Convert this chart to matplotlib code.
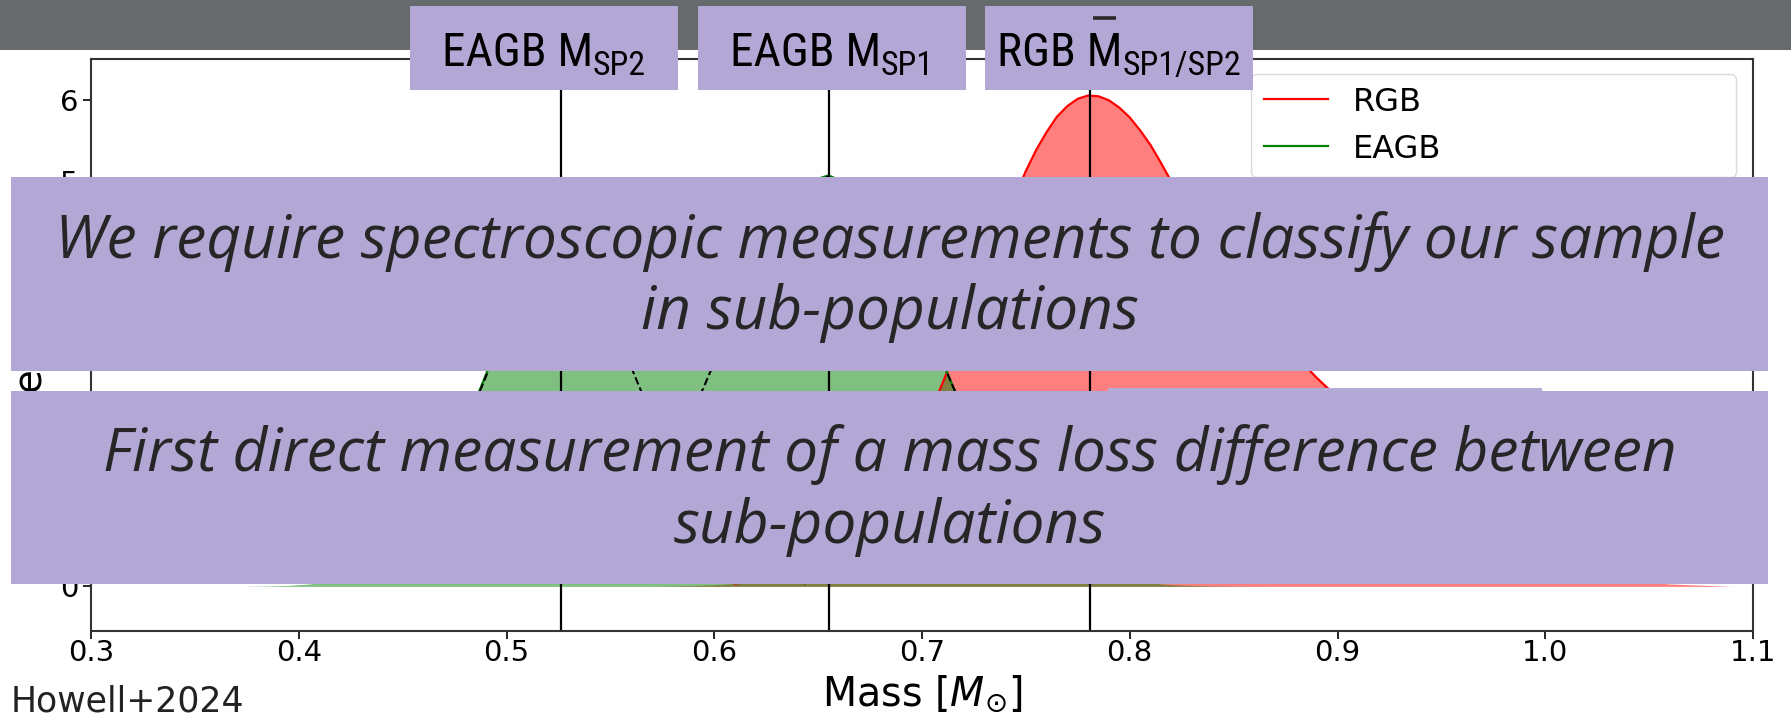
import matplotlib
matplotlib.use("Agg")
import matplotlib.pyplot as plt
import numpy as np
from matplotlib.patches import Rectangle
from matplotlib.lines import Line2D

# RGB mass density (one population), finer sampling around the peak
rgb_mass = [0.57, 0.58, 0.59, 0.60, 0.61, 0.62, 0.63, 0.64, 0.65, 0.66,
            0.67, 0.68, 0.69, 0.70, 0.71, 0.72, 0.73, 0.735, 0.74, 0.745,
            0.75, 0.755, 0.76, 0.765, 0.77, 0.775, 0.78, 0.785, 0.79, 0.795,
            0.80, 0.805, 0.81, 0.815, 0.82, 0.825, 0.83, 0.835, 0.84, 0.85,
            0.86, 0.87, 0.88, 0.89, 0.90, 0.91, 0.92, 0.93, 0.94, 0.95,
            0.96, 0.97, 0.98, 0.99, 1.00, 1.01, 1.02, 1.03, 1.04, 1.05,
            1.06, 1.07, 1.08, 1.09]
rgb_density = [0.00, 0.005, 0.01, 0.02, 0.036, 0.065, 0.11, 0.19, 0.30, 0.47,
               0.70, 1.02, 1.42, 1.92, 2.51, 3.16, 3.84, 4.18, 4.51, 4.82,
               5.12, 5.38, 5.60, 5.79, 5.92, 6.01, 6.05, 6.04, 5.99, 5.90,
               5.78, 5.62, 5.44, 5.22, 4.99, 4.79, 4.58, 4.38, 4.18, 3.80,
               3.45, 3.12, 2.84, 2.57, 2.33, 2.09, 1.85, 1.61, 1.38, 1.16,
               0.96, 0.78, 0.62, 0.48, 0.36, 0.26, 0.18, 0.12, 0.08, 0.05,
               0.03, 0.02, 0.01, 0.00]

# EAGB components: SP2 (low mass) and SP1, on a common grid
eagb_mass = np.round(np.arange(0.375, 0.87, 0.01), 3)
sp2_density = [0.002, 0.005, 0.012, 0.029, 0.063, 0.128, 0.245, 0.438, 0.731, 1.140,
               1.664, 2.269, 2.893, 3.447, 3.840, 4.000, 3.892, 3.541, 3.012, 2.394,
               1.780, 1.236, 0.803, 0.487, 0.277, 0.147, 0.073, 0.034, 0.015, 0.006,
               0.002, 0.001, 0, 0, 0, 0, 0, 0, 0, 0,
               0, 0, 0, 0, 0, 0, 0, 0, 0, 0]
sp1_density = [0, 0, 0, 0, 0, 0, 0.000, 0.001, 0.002, 0.004,
               0.008, 0.016, 0.030, 0.056, 0.100, 0.172, 0.283, 0.449, 0.683, 0.999,
               1.404, 1.895, 2.458, 3.063, 3.667, 4.218, 4.662, 4.950, 5.050, 4.950,
               4.662, 4.218, 3.667, 3.063, 2.458, 1.895, 1.404, 0.999, 0.683, 0.449,
               0.283, 0.172, 0.100, 0.056, 0.030, 0.016, 0.008, 0.004, 0.002, 0.001]

# mean masses marked with vertical lines, and their header labels
mean_masses = [0.526, 0.655, 0.781]
label_main = ["EAGB M", "EAGB M", "RGB M"]
label_sub = ["SP2", "SP1", "SP1/SP2"]
label_bar = [False, False, True]

legend_labels = ["RGB", "EAGB"]

messages = ["We require spectroscopic measurements to classify our sample\nin sub-populations",
            "First direct measurement of a mass loss difference between\nsub-populations"]

W, H = 1791, 718
lavender = "#b3a8d5"
ink = "#262626"
narrow = ["Roboto Condensed", "Roboto"]

fig = plt.figure(figsize=(W / 100, H / 100), dpi=100)
fig.patch.set_facecolor("white")
ax = fig.add_axes([91 / W, 1 - 631 / H, 1662 / W, 572 / H])

rgb_mass = np.array(rgb_mass)
rgb = np.array(rgb_density)
sp1 = np.array(sp1_density)
sp2 = np.array(sp2_density)
eagb = sp1 + sp2

# curves are only stroked where they leave the baseline
cut = 0.03
ax.fill_between(rgb_mass, 0, rgb, color="red", alpha=0.5, lw=0)
ax.plot(rgb_mass[rgb > cut], rgb[rgb > cut], color="red", lw=1.6)
ax.fill_between(eagb_mass, 0, eagb, color="green", alpha=0.5, lw=0)
ax.plot(eagb_mass[eagb > cut], eagb[eagb > cut], color="green", lw=1.6)
ax.plot(eagb_mass[sp2 > cut], sp2[sp2 > cut], color="black", ls="--", lw=1.5)
ax.plot(eagb_mass[sp1 > cut], sp1[sp1 > cut], color="black", ls="--", lw=1.5)
for m in mean_masses:
    ax.axvline(m, color="black", lw=1.6)

ax.set_xlim(0.3, 1.1)
ax.set_ylim(-0.55, 6.5)
ax.set_xticks(np.round(np.arange(0.3, 1.15, 0.1), 1))
ax.set_yticks(range(0, 7))
ax.tick_params(labelsize=21, length=6, width=1.2)
ax.tick_params(axis="x", pad=0)
ax.tick_params(axis="y", pad=3)
for s in ax.spines.values():
    s.set_linewidth(1.5)
    s.set_color("#333333")
ax.set_xlabel(r"Mass [$M_{\odot}$]", fontsize=28.5, labelpad=4)
ax.set_ylabel("Density", fontsize=28)
ax.yaxis.set_label_coords(-0.027, 0.5)

handles = [Line2D([], [], color="red", lw=1.6), Line2D([], [], color="green", lw=1.6)]
ax.legend(handles, legend_labels, loc="upper right", fontsize=23,
          bbox_to_anchor=(0.698, 0.5, 0.292, 0.474), mode="expand",
          borderaxespad=0, edgecolor="#d0d0d0")


def box(x0, y0, x1, y1, color, z=10):
    fig.add_artist(Rectangle((x0 / W, 1 - y1 / H), (x1 - x0) / W, (y1 - y0) / H,
                             transform=fig.transFigure, facecolor=color,
                             edgecolor="none", zorder=z))


# header band and label boxes
box(0, 0, W, 50, "#666a6d")
renderer = fig.canvas.get_renderer()
label_boxes = [(410, 678), (698, 966), (985, 1253)]
for (x0, x1), main, sub, bar in zip(label_boxes, label_main, label_sub, label_bar):
    box(x0, 6, x1, 90, lavender)
    tm = fig.text(0, 0, main, fontsize=34, family=narrow, va="baseline", zorder=12)
    ts = fig.text(0, 0, sub, fontsize=24.5, family=narrow, va="baseline", zorder=12)
    wm = tm.get_window_extent(renderer).width
    ws = ts.get_window_extent(renderer).width
    left = (x0 + x1) / 2 - (wm + ws) / 2
    tm.set_position((left / W, 1 - 66 / H))
    ts.set_position(((left + wm) / W, 1 - 75 / H))
    if bar:
        tmp = fig.text(0, 0, "M", fontsize=34, family=narrow)
        wM = tmp.get_window_extent(renderer).width
        tmp.remove()
        xa, xb = left + wm - wM + 6, left + wm - 6
        fig.add_artist(Line2D([xa / W, xb / W], [1 - 18 / H, 1 - 18 / H],
                              transform=fig.transFigure, color="#2a2a2a",
                              lw=2.6, solid_capstyle="butt", zorder=12))

# message panels
box(1108, 388, 1542, 400, "#b6acd8", z=9)
panels = [(177, 371), (391, 584)]
for (y0, y1), msg in zip(panels, messages):
    box(11, y0, 1768, y1, lavender)
    fig.text(890 / W, 1 - ((y0 + y1) / 2 + 3) / H, msg, ha="center", va="center",
             multialignment="center", fontsize=43.5, family=["Open Sans", "Noto Sans"],
             style="italic", weight="medium", color=ink, linespacing=1.25, zorder=12)

fig.text(11 / W, 1 - 701 / H, "Howell+2024", ha="left", va="center",
         fontsize=25, color="#222222")

fig.savefig("out.png", dpi=100)
